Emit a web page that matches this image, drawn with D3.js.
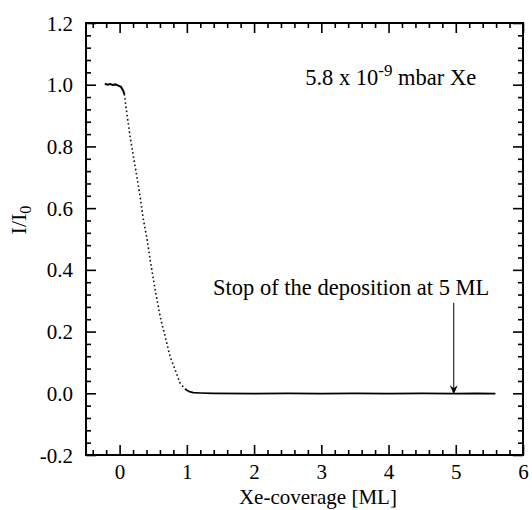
<!DOCTYPE html>
<html>
<head>
<meta charset="utf-8">
<script src="https://cdn.jsdelivr.net/npm/d3@7"></script>
<style>
  html, body { margin: 0; padding: 0; background: #fff; }
  svg { display: block; }
  svg text { font-family: "Liberation Serif", "DejaVu Serif", "Times New Roman", Times, serif !important; fill: #000; }
</style>
</head>
<body>
<div id="chart"></div>
<script>
// ---- data ----
const xDomain = [-0.5, 6];
const yDomain = [-0.2, 1.2];
const xTickValues = [0, 1, 2, 3, 4, 5, 6];
const xTickLabels = ["0", "1", "2", "3", "4", "5", "6"];
const yTickValues = [-0.2, 0.0, 0.2, 0.4, 0.6, 0.8, 1.0, 1.2];
const yTickLabels = ["-0.2", "0.0", "0.2", "0.4", "0.6", "0.8", "1.0", "1.2"];

// initial plateau (before deposition)
const plateauX = [-0.22, -0.18, -0.14, -0.10, -0.06, -0.02, 0.02, 0.05, 0.07];
const plateauY = [1.003, 1.000, 1.002, 0.999, 1.001, 0.997, 0.993, 0.982, 0.970];
// steep drop (sparse dots)
const dropX = [0.07, 0.107, 0.156, 0.205, 0.256, 0.305, 0.354, 0.405, 0.454, 0.528, 0.603, 0.677, 0.751, 0.826, 0.900, 0.975];
const dropY = [0.970, 0.908, 0.832, 0.768, 0.703, 0.638, 0.562, 0.504, 0.433, 0.336, 0.249, 0.184, 0.119, 0.076, 0.033, 0.014];
// tail near zero
const tailX = [0.975, 1.03, 1.094, 1.2, 1.39, 2.0, 2.5, 3.0, 3.5, 4.0, 4.5, 5.0, 5.3, 5.59];
const tailY = [0.014, 0.006, 0.002, 0.001, 0.000, -0.001, 0.000, -0.001, 0.000, -0.001, 0.000, -0.001, 0.000, -0.001];

// annotations
const pressureNote = { x: 2.76, y: 1.0, main: "5.8 x 10", sup: "-9", rest: " mbar Xe" };
const stopNote = { x: 1.39, y: 0.319, text: "Stop of the deposition at 5 ML" };
const arrow = { x: 4.97, yFrom: 0.293, yTo: -0.003 };

// ---- layout ----
const W = 532, H = 510;
const margin = { top: 23, right: 9, bottom: 55, left: 86 };
const iw = W - margin.left - margin.right;
const ih = H - margin.top - margin.bottom;
const FONT = "'Liberation Serif', 'DejaVu Serif', 'Times New Roman', serif";

const svg = d3.select("#chart").append("svg").attr("width", W).attr("height", H)
  .attr("font-family", FONT);
const g = svg.append("g").attr("transform", `translate(${margin.left},${margin.top})`);

const x = d3.scaleLinear().domain(xDomain).range([0, iw]);
const y = d3.scaleLinear().domain(yDomain).range([ih, 0]);

const xMinor = d3.range(-0.4, 6.0001, 0.2).map(v => +v.toFixed(2)).filter(v => !xTickValues.some(t => Math.abs(t - v) < 1e-6));
const yMinor = d3.range(-0.16, 1.2, 0.04).map(v => +v.toFixed(2)).filter(v => !yTickValues.some(t => Math.abs(t - v) < 1e-6));

function styleAxis(sel) {
  sel.attr("font-family", FONT);
  sel.select(".domain").remove();
  sel.selectAll(".tick line").attr("stroke", "#000").attr("stroke-width", 1.6);
}

// minor ticks
g.append("g").attr("transform", `translate(0,${ih})`).call(d3.axisBottom(x).tickValues(xMinor).tickSize(-5).tickFormat("")).call(styleAxis);
g.append("g").call(d3.axisTop(x).tickValues(xMinor).tickSize(-5).tickFormat("")).call(styleAxis);
g.append("g").call(d3.axisLeft(y).tickValues(yMinor).tickSize(-5).tickFormat("")).call(styleAxis);
g.append("g").attr("transform", `translate(${iw},0)`).call(d3.axisRight(y).tickValues(yMinor).tickSize(-5).tickFormat("")).call(styleAxis);

// major ticks
const xAx = g.append("g").attr("transform", `translate(0,${ih})`)
  .call(d3.axisBottom(x).tickValues(xTickValues).tickSize(-10).tickPadding(0)
    .tickFormat((d, i) => xTickLabels[i]))
  .call(styleAxis);
xAx.selectAll(".tick text").attr("y", 24).attr("dy", 0).attr("font-size", 21).attr("fill", "#000");

g.append("g").call(d3.axisTop(x).tickValues(xTickValues).tickSize(-10).tickFormat("")).call(styleAxis);

const yAx = g.append("g")
  .call(d3.axisLeft(y).tickValues(yTickValues).tickSize(-10).tickPadding(0)
    .tickFormat((d, i) => yTickLabels[i]))
  .call(styleAxis);
yAx.selectAll(".tick text").attr("x", -13).attr("dy", "0.34em").attr("font-size", 21).attr("fill", "#000");

g.append("g").attr("transform", `translate(${iw},0)`).call(d3.axisRight(y).tickValues(yTickValues).tickSize(-10).tickFormat("")).call(styleAxis);

// frame
g.append("rect").attr("x", 0).attr("y", 0).attr("width", iw).attr("height", ih)
  .attr("fill", "none").attr("stroke", "#000").attr("stroke-width", 2);

// data
const line = d3.line().x(d => x(d[0])).y(d => y(d[1]));
g.append("path").datum(d3.zip(plateauX, plateauY)).attr("d", line)
  .attr("fill", "none").attr("stroke", "#000").attr("stroke-width", 2);
g.append("path").datum(d3.zip(dropX, dropY)).attr("d", line)
  .attr("fill", "none").attr("stroke", "#111").attr("stroke-width", 1.6).attr("stroke-dasharray", "1.6,2.6");
g.append("path").datum(d3.zip(tailX, tailY)).attr("d", line)
  .attr("fill", "none").attr("stroke", "#000").attr("stroke-width", 1.7);

// arrow
g.append("line").attr("x1", x(arrow.x)).attr("x2", x(arrow.x))
  .attr("y1", y(arrow.yFrom)).attr("y2", y(arrow.yTo) - 4)
  .attr("stroke", "#000").attr("stroke-width", 1);
const tipX = x(arrow.x), tipY = y(arrow.yTo);
g.append("path").attr("d", `M${tipX},${tipY} L${tipX - 4},${tipY - 9} L${tipX},${tipY - 6} L${tipX + 4},${tipY - 9} Z`).attr("fill", "#000");

// annotations
const pt = g.append("text").attr("x", x(pressureNote.x)).attr("y", y(pressureNote.y)).attr("font-size", 22.5);
pt.append("tspan").text(pressureNote.main);
pt.append("tspan").attr("dy", -9).attr("font-size", 17).text(pressureNote.sup);
pt.append("tspan").attr("dy", 9).text(pressureNote.rest);

g.append("text").attr("x", x(stopNote.x)).attr("y", y(stopNote.y)).attr("font-size", 22.5).text(stopNote.text);

// axis titles
svg.append("text").attr("x", margin.left + x(2.95)).attr("y", 504).attr("text-anchor", "middle")
  .attr("font-size", 21).text("Xe-coverage [ML]");

const yl = svg.append("text").attr("transform", `translate(26,220) rotate(-90)`).attr("text-anchor", "middle").attr("font-size", 22);
yl.append("tspan").text("I/I");
yl.append("tspan").attr("dy", 5).attr("font-size", 16).text("0");
</script>
</body>
</html>
